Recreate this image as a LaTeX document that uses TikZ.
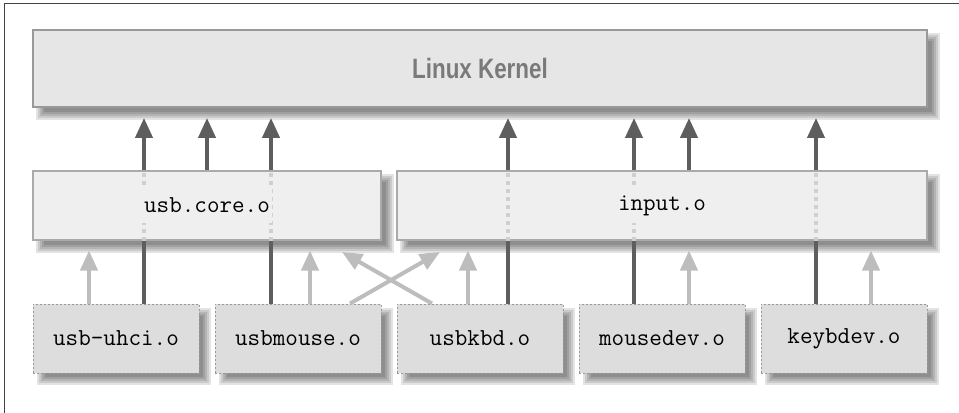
\documentclass[tikz,border=0pt]{standalone}
\usepackage{fontspec}
\newfontfamily\kernfont[FakeStretch=0.8]{Liberation Sans}
\usetikzlibrary{arrows.meta,calc}
\definecolor{kernfill}{HTML}{E6E6E6}
\definecolor{kerndraw}{HTML}{999999}
\definecolor{midfill}{HTML}{EFEFEF}
\definecolor{middraw}{HTML}{AAAAAA}
\definecolor{botfill}{HTML}{DDDDDD}
\definecolor{botdraw}{HTML}{999999}
\definecolor{darkline}{HTML}{5E5E5E}
\definecolor{lightline}{HTML}{BDBDBD}
\definecolor{dotline}{HTML}{CFCFCF}
\definecolor{kerntext}{HTML}{7A7A7A}
\definecolor{frameline}{HTML}{444444}
\pgfdeclarelayer{background}
\pgfsetlayers{background,main}
\newcommand\boxshadow[1]{%
  \foreach \a/\b in {4/12,6/10,8/8,10/6,12/4}{%
    \fill[black,opacity=0.11] ([shift={(\a,\a)}]#1.north west) rectangle ([shift={(\b,\b)}]#1.south east);}}
\tikzset{
  kernbox/.style={draw=kerndraw,line width=1.4pt,fill=kernfill,inner sep=0pt,
    minimum width=670.5pt,minimum height=57.75pt,
    font=\kernfont\bfseries\fontsize{21}{24}\selectfont,text=kerntext},
  midbox/.style={draw=middraw,line width=0.8pt,fill=midfill,inner sep=0pt,minimum height=51.75pt},
  midlabel/.style={fill=midfill,inner xsep=1.5pt,inner ysep=0pt,minimum height=27pt,
    font=\ttfamily\fontsize{18.3}{21}\selectfont,text=black},
  botbox/.style={draw=botdraw,line width=0.7pt,dash pattern=on 1.5pt off 1.5pt,fill=botfill,
    inner sep=0pt,minimum width=124.5pt,minimum height=51.75pt,
    font=\ttfamily\fontsize{18.3}{21}\selectfont,text=black},
  darkarrow/.style={draw=darkline,line width=3pt,-{Triangle[width=12.75pt,length=15pt]},shorten >=7.5pt},
  lightarrow/.style={draw=lightline,line width=3pt,-{Triangle[width=12.75pt,length=15pt]}},
  dotseg/.style={draw=dotline,line width=3pt,dash pattern=on 3pt off 3pt},
}
\begin{document}
\begin{tikzpicture}[x=0.75pt,y=-0.75pt]
\useasboundingbox (0,0) rectangle (959,413);
\draw[frameline,line width=1pt] (4.5,413) -- (4.5,3.5) -- (959,3.5);

% kernel
\node[kernbox] (k) at (480,68.5) {Linux Kernel};

% bottom modules
\node[botbox] (uhci)  at (116,338.5) {usb-uhci.o};
\node[botbox] (mouse) at (298,338.5) {usbmouse.o};
\node[botbox] (kbd)   at (480,338.5) {usbkbd.o};
\node[botbox] (mdev)  at (662,338.5) {mousedev.o};
\node[botbox] (kdev)  at (844,338.5) {keybdev.o};

% dark arrows from the bottom modules to the kernel
\draw[darkarrow] (uhci.north -| 144,0)  -- (k.south -| 144,0);
\draw[darkarrow] (mouse.north -| 271,0) -- (k.south -| 271,0);
\draw[darkarrow] (kbd.north -| 508,0)   -- (k.south -| 508,0);
\draw[darkarrow] (mdev.north -| 634,0)  -- (k.south -| 634,0);
\draw[darkarrow] (kdev.north -| 816,0)  -- (k.south -| 816,0);

% middle modules
\node[midbox,minimum width=261pt]   (core) at (207,205.5) {};
\node[midbox,minimum width=397.5pt] (inp)  at (662,205.5) {};

% dotted pass-through segments
\foreach \xx in {144,271}{\draw[dotseg] (core.south -| \xx,0) -- (core.north -| \xx,0);}
\foreach \xx in {508,634,816}{\draw[dotseg] (inp.south -| \xx,0) -- (inp.north -| \xx,0);}

\node[midlabel] (corelbl) at (core.center) {usb.core.o};
\node[midlabel] (inplbl)  at (inp.center) {input.o};

% dark arrows from middle modules
\draw[darkarrow] (core.north -| 207,0) -- (k.south -| 207,0);
\draw[darkarrow] (inp.north -| 689,0)  -- (k.south -| 689,0);

% light arrows from bottom to middle modules
\draw[lightarrow,shorten >=7.5pt] (uhci.north -| 89,0)  -- (core.south -| 89,0);
\draw[lightarrow,shorten >=7.5pt] (mouse.north -| 310,0) -- (core.south -| 310,0);
\draw[lightarrow,shorten >=7.5pt] (kbd.north -| 468,0)  -- (inp.south -| 468,0);
\draw[lightarrow,shorten >=7.5pt] (mdev.north -| 689,0) -- (inp.south -| 689,0);
\draw[lightarrow,shorten >=7.5pt] (kdev.north -| 871,0) -- (inp.south -| 871,0);
\coordinate (tipA) at (440,252);
\coordinate (tipB) at (342,252);
\draw[lightarrow] (mouse.north -| 350,0) -- (tipA);
\draw[lightarrow] (kbd.north -| 432,0) -- (tipB);

% shadows
\begin{pgfonlayer}{background}
\boxshadow{k}
\boxshadow{core}
\boxshadow{inp}
\boxshadow{uhci}
\boxshadow{mouse}
\boxshadow{kbd}
\boxshadow{mdev}
\boxshadow{kdev}
\end{pgfonlayer}
\end{tikzpicture}
\end{document}
